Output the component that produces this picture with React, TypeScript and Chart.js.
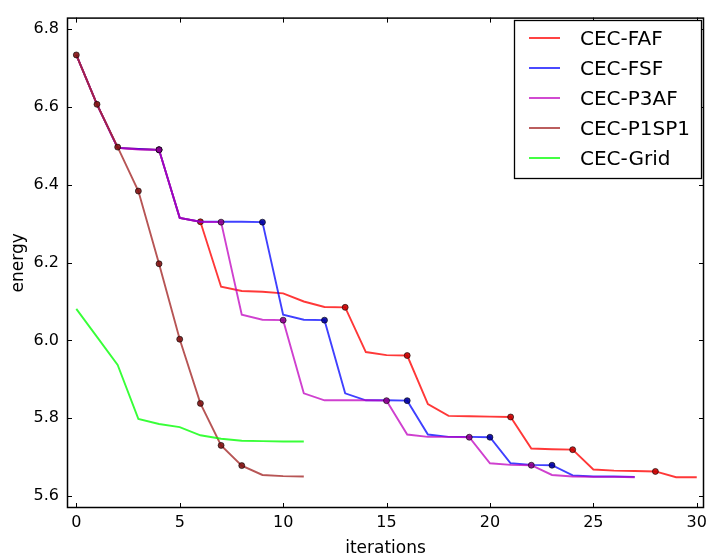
import { useEffect, useRef } from 'react';
import { Chart, registerables } from 'chart.js';

Chart.register(...registerables);

const SERIES_NAMES = ['CEC-FAF', 'CEC-FSF', 'CEC-P3AF', 'CEC-P1SP1', 'CEC-Grid'];

const FAF = [6.734, 6.607, 6.495, 6.492, 6.490, 6.315, 6.305, 6.138, 6.127, 6.125, 6.121, 6.100, 6.086, 6.085, 5.970, 5.962, 5.961, 5.836, 5.806, 5.805, 5.804, 5.803, 5.722, 5.720, 5.719, 5.668, 5.665, 5.664, 5.663, 5.648, 5.648];
const FSF = [6.734, 6.607, 6.495, 6.492, 6.490, 6.315, 6.305, 6.305, 6.305, 6.304, 6.066, 6.053, 6.052, 5.864, 5.846, 5.846, 5.845, 5.758, 5.752, 5.752, 5.751, 5.684, 5.680, 5.679, 5.653, 5.650, 5.650, 5.649];
const P3AF = [6.734, 6.607, 6.495, 6.491, 6.490, 6.315, 6.305, 6.304, 6.066, 6.053, 6.052, 5.864, 5.846, 5.846, 5.846, 5.845, 5.758, 5.752, 5.752, 5.751, 5.684, 5.680, 5.679, 5.654, 5.650, 5.649, 5.649, 5.648];
const P1SP1 = [6.734, 6.607, 6.497, 6.384, 6.197, 6.003, 5.838, 5.730, 5.678, 5.654, 5.651, 5.650];
const GRID = [6.081, 6.009, 5.937, 5.798, 5.785, 5.777, 5.756, 5.747, 5.742, 5.741, 5.740, 5.740];

// iterations at which a marker is shown
const FAF_MARKS = [4, 6, 13, 16, 21, 24, 28];
const FSF_MARKS = [4, 9, 12, 16, 20, 23];
const P3AF_MARKS = [4, 7, 10, 15, 19, 22];
const P1SP1_MARKS = [0, 1, 2, 3, 4, 5, 6, 7, 8];
const GRID_MARKS: number[] = [];

const X_TICKS = [0, 5, 10, 15, 20, 25, 30];
const Y_TICKS = [5.6, 5.8, 6.0, 6.2, 6.4, 6.6, 6.8];

const LINE_COLORS = ['rgba(255,0,0,0.78)', 'rgba(0,0,255,0.75)', 'rgba(191,0,191,0.75)', 'rgba(165,42,42,0.8)', 'rgba(0,255,0,0.78)'];
const MARK_COLORS = ['rgba(200,0,0,0.9)', 'rgba(0,0,160,0.9)', 'rgba(140,0,140,0.9)', 'rgba(130,20,20,0.9)', 'rgba(0,170,0,0.9)'];

const FONT = 'DejaVu Sans';

export default function App() {
  const ref = useRef<HTMLCanvasElement | null>(null);

  useEffect(() => {
    document.body.style.margin = '0';
    const values = [FAF, FSF, P3AF, P1SP1, GRID];
    const marks = [FAF_MARKS, FSF_MARKS, P3AF_MARKS, P1SP1_MARKS, GRID_MARKS];

    const datasets = values.map((vals, i) => ({
      label: SERIES_NAMES[i],
      data: vals.map((y, x) => ({ x, y })),
      borderColor: LINE_COLORS[i],
      borderWidth: 1.9,
      pointRadius: vals.map((_, x) => (marks[i].includes(x) ? 3 : 0)),
      pointBackgroundColor: MARK_COLORS[i],
      pointBorderColor: 'rgba(0,0,0,0.6)',
      pointBorderWidth: 1,
      fill: false,
      tension: 0,
      order: values.length - i,
    }));

    const framePlugin = {
      id: 'mplFrame',
      afterDraw(chart: any) {
        const { ctx, chartArea: a, scales } = chart;
        ctx.save();
        ctx.strokeStyle = '#000';
        ctx.lineWidth = 1;
        ctx.beginPath();
        X_TICKS.forEach((v) => {
          const px = Math.round(scales.x.getPixelForValue(v)) + 0.5;
          ctx.moveTo(px, a.bottom);
          ctx.lineTo(px, a.bottom - 5);
          ctx.moveTo(px, a.top);
          ctx.lineTo(px, a.top + 5);
        });
        Y_TICKS.forEach((v) => {
          const py = Math.round(scales.y.getPixelForValue(v)) + 0.5;
          ctx.moveTo(a.left, py);
          ctx.lineTo(a.left + 5, py);
          ctx.moveTo(a.right, py);
          ctx.lineTo(a.right - 5, py);
        });
        ctx.stroke();
        ctx.lineWidth = 1.5;
        ctx.strokeRect(a.left + 0.5, a.top + 0.5, a.right - a.left - 1, a.bottom - a.top - 1);

        // legend
        const lx = 514, ly = 20, lw = 187, lh = 158;
        ctx.fillStyle = '#fff';
        ctx.fillRect(lx, ly, lw, lh);
        ctx.lineWidth = 1.3;
        ctx.strokeStyle = '#000';
        ctx.strokeRect(lx + 0.5, ly + 0.5, lw, lh);
        ctx.font = `20px "${FONT}"`;
        ctx.textBaseline = 'alphabetic';
        ctx.textAlign = 'left';
        chart.data.datasets.forEach((ds: any, i: number) => {
          const cy = 38 + i * 30;
          ctx.strokeStyle = ds.borderColor;
          ctx.lineWidth = 1.9;
          ctx.beginPath();
          ctx.moveTo(529, cy);
          ctx.lineTo(560, cy);
          ctx.stroke();
          ctx.fillStyle = '#000';
          ctx.fillText(ds.label, 580, cy + 7.3);
        });
        ctx.restore();
      },
    };

    const chart = new Chart(ref.current as HTMLCanvasElement, {
      type: 'line',
      data: { datasets: datasets as any },
      options: {
        responsive: false,
        animation: false,
        devicePixelRatio: 1,
        layout: { padding: { top: 10, right: 2, left: 0, bottom: 0 } },
        plugins: { legend: { display: false }, tooltip: { enabled: false } },
        scales: {
          x: {
            type: 'linear',
            min: -0.45,
            max: 30.35,
            afterFit: (s: any) => { s.height = 48; },
            afterBuildTicks: (s: any) => { s.ticks = X_TICKS.map((v) => ({ value: v })); },
            ticks: {
              includeBounds: false,
              padding: 5,
              color: '#000',
              font: { family: FONT, size: 16 },
              maxRotation: 0,
              callback: (v: any) => String(v),
            },
            grid: { display: false, drawTicks: false },
            border: { display: false },
            title: {
              display: true,
              text: 'iterations',
              color: '#000',
              font: { family: FONT, size: 17 },
              padding: { top: 0, bottom: -3 },
            },
          },
          y: {
            type: 'linear',
            min: 5.569,
            max: 6.83,
            afterFit: (s: any) => { s.width = 67; },
            afterBuildTicks: (s: any) => { s.ticks = Y_TICKS.map((v) => ({ value: v })); },
            ticks: {
              includeBounds: false,
              padding: 8,
              color: '#000',
              font: { family: FONT, size: 16 },
              callback: (v: any) => Number(v).toFixed(1),
            },
            grid: { display: false, drawTicks: false },
            border: { display: false },
            title: {
              display: true,
              text: 'energy',
              color: '#000',
              font: { family: FONT, size: 17 },
              padding: { top: 8, bottom: 0 },
            },
          },
        },
      },
      plugins: [framePlugin],
    });

    return () => chart.destroy();
  }, []);

  return <canvas ref={ref} width={712} height={556} style={{ display: 'block' }} />;
}
